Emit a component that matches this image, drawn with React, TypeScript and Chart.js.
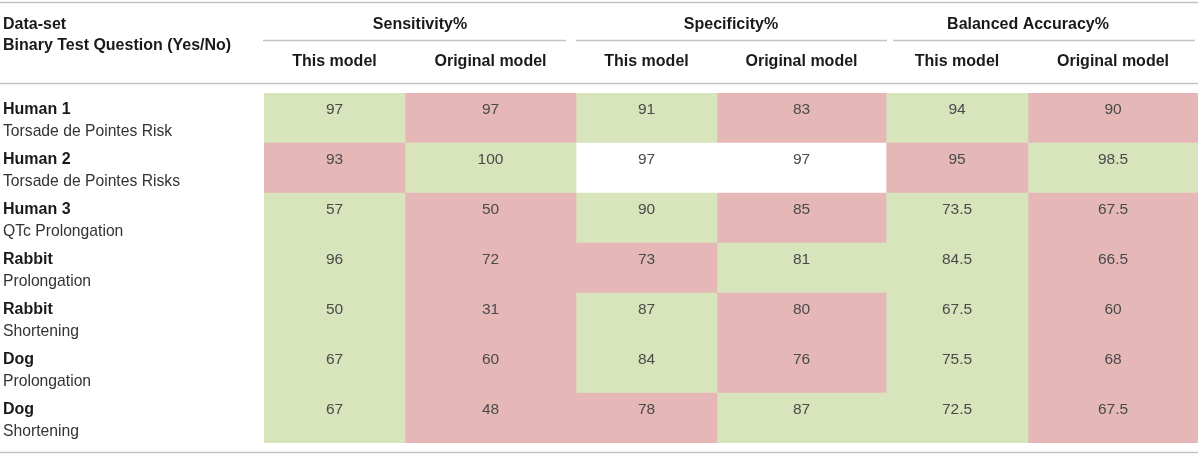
import React, { useEffect, useRef } from "react";
import { Chart, registerables } from "chart.js";

Chart.register(...registerables);

// ---------- data ----------
const groupHeaders = ["Sensitivity%", "Specificity%", "Balanced Accuracy%"];
const subHeaders = ["This model", "Original model"];
const headerLine1 = "Data-set";
const headerLine2 = "Binary Test Question (Yes/No)";
const datasetNames = ["Human 1", "Human 2", "Human 3", "Rabbit", "Rabbit", "Dog", "Dog"];
const questions = [
  "Torsade de Pointes Risk",
  "Torsade de Pointes Risks",
  "QTc Prolongation",
  "Prolongation",
  "Shortening",
  "Prolongation",
  "Shortening",
];

const sensThis = [97, 93, 57, 96, 50, 67, 67];
const sensOrig = [97, 100, 50, 72, 31, 60, 48];
const specThis = [91, 97, 90, 73, 87, 84, 78];
const specOrig = [83, 97, 85, 81, 80, 76, 87];
const balThis = [94, 95, 73.5, 84.5, 67.5, 75.5, 72.5];
const balOrig = [90, 98.5, 67.5, 66.5, 60, 68, 67.5];

// cell shading: g = better, r = worse, w = equal
const sensThisShade = ["g", "r", "g", "g", "g", "g", "g"];
const sensOrigShade = ["r", "g", "r", "r", "r", "r", "r"];
const specThisShade = ["g", "w", "g", "r", "g", "g", "r"];
const specOrigShade = ["r", "w", "r", "g", "r", "r", "g"];
const balThisShade = ["g", "r", "g", "g", "g", "g", "g"];
const balOrigShade = ["r", "g", "r", "r", "r", "r", "r"];

// ---------- layout / style ----------
const COL_WIDTHS = [141, 171, 141, 169, 142, 170];
const SHADE: Record<string, string> = { g: "#d8e4bc", r: "#e5b8b7", w: "#ffffff" };
const FONT = '"Helvetica Neue", Helvetica, Arial, "Liberation Sans", sans-serif';
const LINE = "#c4c4c4";

const columns = [
  { values: sensThis, shades: sensThisShade },
  { values: sensOrig, shades: sensOrigShade },
  { values: specThis, shades: specThisShade },
  { values: specOrig, shades: specOrigShade },
  { values: balThis, shades: balThisShade },
  { values: balOrig, shades: balOrigShade },
];

const colStarts: number[] = [];
COL_WIDTHS.reduce((acc, w) => {
  colStarts.push(acc);
  return acc + w;
}, 0);
const TOTAL = COL_WIDTHS.reduce((a, b) => a + b, 0);

const tablePlugin = {
  id: "tableText",
  afterDatasetsDraw(chart: any) {
    const ctx = chart.ctx;
    const xs = chart.scales.x;
    const ys = chart.scales.y;
    const top = chart.chartArea.top;
    const W = chart.width;
    ctx.save();

    // values in cells
    ctx.font = `15.5px ${FONT}`;
    ctx.fillStyle = "#4a4a4a";
    ctx.textAlign = "center";
    ctx.textBaseline = "middle";
    chart.data.datasets.forEach((ds: any, di: number) => {
      const meta = chart.getDatasetMeta(di);
      meta.data.forEach((el: any, i: number) => {
        const cx = (el.x + el.base) / 2;
        const ty = el.y - el.height / 2 + 16.5;
        ctx.fillText(String(columns[di].values[i]), cx, ty);
      });
    });

    // row labels
    ctx.textAlign = "left";
    datasetNames.forEach((name, i) => {
      const cy = ys.getPixelForValue(i);
      const rt = cy - 25;
      ctx.fillStyle = "#1a1a1a";
      ctx.font = `bold 16px ${FONT}`;
      ctx.fillText(name, 3, rt + 16.5);
      ctx.fillStyle = "#333333";
      ctx.font = `15.7px ${FONT}`;
      ctx.fillText(questions[i], 3, rt + 38.5);
    });

    // header
    ctx.fillStyle = "#1a1a1a";
    ctx.font = `bold 16px ${FONT}`;
    ctx.textAlign = "left";
    ctx.fillText(headerLine1, 3, top - 68.5);
    ctx.fillText(headerLine2, 3, top - 47.5);

    const groupShift = [0, 0, -14];
    const ulLeft = [-1, 0, 7];
    const ulRight = [10, -1, 3];
    ctx.textAlign = "center";
    groupHeaders.forEach((g, gi) => {
      const x0 = xs.getPixelForValue(colStarts[gi * 2]);
      const x1 = xs.getPixelForValue(colStarts[gi * 2 + 1] + COL_WIDTHS[gi * 2 + 1]);
      ctx.fillStyle = "#1a1a1a";
      ctx.fillText(g, (x0 + x1) / 2 + groupShift[gi], top - 68.5);
      ctx.strokeStyle = LINE;
      ctx.lineWidth = 1.5;
      ctx.beginPath();
      ctx.moveTo(x0 + ulLeft[gi], top - 52.5);
      ctx.lineTo(x1 - ulRight[gi], top - 52.5);
      ctx.stroke();
    });
    columns.forEach((c, ci) => {
      const x0 = xs.getPixelForValue(colStarts[ci]);
      const x1 = xs.getPixelForValue(colStarts[ci] + COL_WIDTHS[ci]);
      ctx.fillStyle = "#1a1a1a";
      ctx.fillText(subHeaders[ci % 2], (x0 + x1) / 2, top - 31.5);
    });

    // rules
    ctx.strokeStyle = LINE;
    ctx.lineWidth = 1.5;
    const hl = (y: number) => {
      ctx.beginPath();
      ctx.moveTo(0, y);
      ctx.lineTo(W - 2, y);
      ctx.stroke();
    };
    hl(top - 90.5);
    hl(top - 9.5);
    hl(chart.chartArea.bottom + 9.5);
    ctx.restore();
  },
};

export default function App() {
  const ref = useRef<HTMLCanvasElement | null>(null);
  useEffect(() => {
    if (!ref.current) return;
    const chart = new Chart(ref.current, {
      type: "bar",
      data: {
        labels: datasetNames.map((n, i) => `${n} ${questions[i]}`),
        datasets: columns.map((c, ci) => ({
          label: `${groupHeaders[Math.floor(ci / 2)]} ${subHeaders[ci % 2]}`,
          data: c.values.map(() => [colStarts[ci], colStarts[ci] + COL_WIDTHS[ci]]) as any,
          backgroundColor: c.shades.map((s) => SHADE[s]),
          borderWidth: 0,
          borderSkipped: false,
          barPercentage: 1,
          categoryPercentage: 1,
          grouped: false,
        })),
      },
      options: {
        indexAxis: "y",
        responsive: false,
        animation: false,
        layout: { padding: { left: 264, right: 2, top: 93, bottom: 12 } },
        scales: {
          x: { type: "linear", min: 0, max: TOTAL, display: false },
          y: { type: "category", display: false },
        },
        plugins: { legend: { display: false }, tooltip: { enabled: false } },
      },
      plugins: [tablePlugin],
    });
    return () => chart.destroy();
  }, []);
  return (
    <div style={{ position: "absolute", left: 0, top: 0, width: 1200, height: 455, background: "#fff" }}>
      <canvas ref={ref} width={1200} height={455} />
    </div>
  );
}
